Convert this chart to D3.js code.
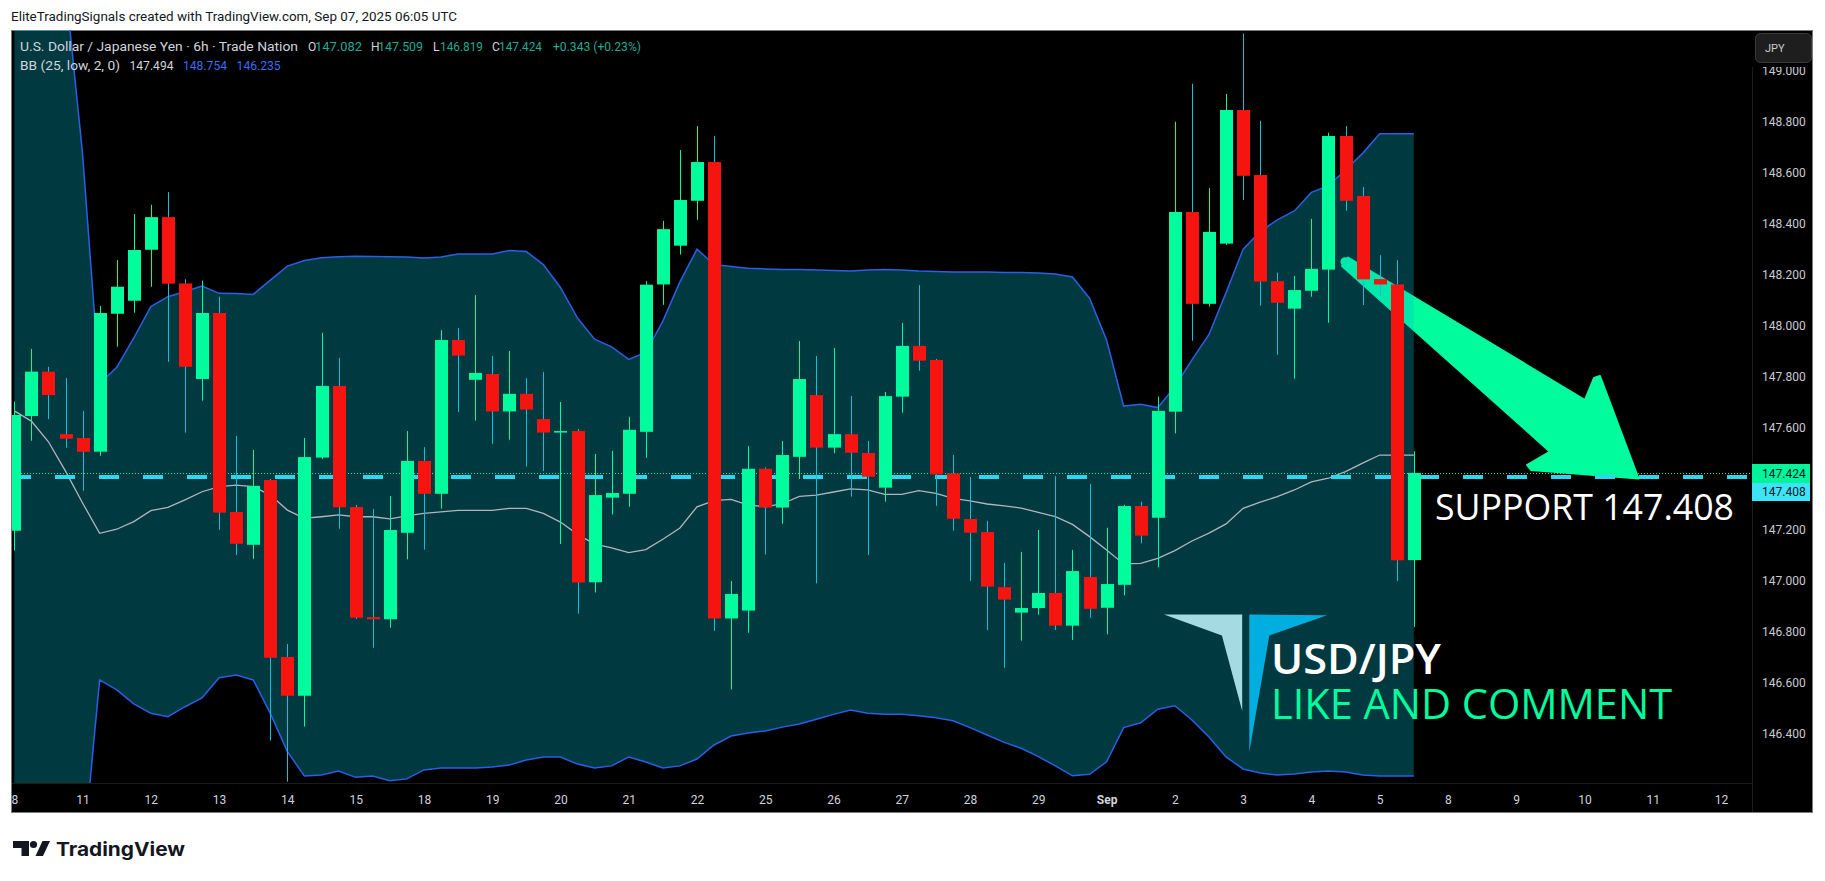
<!DOCTYPE html>
<html><head><meta charset="utf-8">
<script src="https://cdn.jsdelivr.net/npm/d3@7/dist/d3.min.js"></script>
<style>html,body{margin:0;padding:0;background:#fff;}svg{display:block}</style>
</head><body>
<svg id="c" width="1825" height="881"></svg>
<script>
// ---- data (USD/JPY 6h, Trade Nation) ----
const open  = [147.197,147.647,147.821,147.576,147.561,147.507,148.048,148.099,148.299,148.427,148.167,147.792,148.051,147.271,147.142,147.396,146.702,146.550,147.484,147.765,147.290,146.858,146.850,147.189,147.471,147.342,147.945,147.789,147.812,147.665,147.734,147.635,147.582,147.588,146.995,147.327,147.342,147.585,148.163,148.315,148.491,148.643,146.853,146.884,147.440,147.288,147.487,147.729,147.523,147.576,147.502,147.366,147.723,147.922,147.867,147.422,147.243,147.192,146.976,146.876,146.894,146.953,146.825,147.016,146.895,146.985,147.294,147.248,147.664,148.447,148.087,148.323,148.847,148.592,148.176,148.068,148.138,148.221,148.745,148.510,148.184,148.163,147.082];
const high  = [147.703,147.910,147.840,147.796,147.667,148.078,148.259,148.439,148.475,148.525,148.183,148.178,148.115,147.569,147.514,147.400,146.753,147.561,147.973,147.875,147.298,147.282,147.333,147.588,147.525,147.984,147.992,148.121,147.882,147.902,147.795,147.819,147.702,147.596,147.498,147.510,147.644,148.176,148.412,148.690,148.784,148.745,147.000,147.529,147.445,147.549,147.941,147.882,147.914,147.725,147.549,147.741,148.012,148.160,147.871,147.494,147.408,147.236,147.071,147.114,147.200,147.411,147.122,147.380,147.209,147.299,147.311,147.723,148.801,148.950,148.541,148.910,149.147,148.804,148.209,148.196,148.420,148.758,148.784,148.545,148.278,148.258,147.509];
const low   = [147.119,147.550,147.635,147.523,147.354,147.491,147.919,148.052,148.154,147.860,147.582,147.707,147.201,147.102,147.087,146.374,146.213,146.429,147.478,147.205,146.851,146.738,146.817,147.085,147.123,147.284,147.663,147.629,147.538,147.554,147.449,147.431,147.145,146.872,146.955,147.261,147.291,147.483,148.083,148.280,148.416,146.805,146.575,146.797,147.104,147.225,147.400,146.991,147.501,147.331,147.102,147.311,147.660,147.825,147.295,147.197,147.001,146.808,146.660,146.766,146.868,146.808,146.769,146.856,146.791,146.944,147.148,147.054,147.579,147.942,148.076,148.318,148.494,148.080,147.887,147.793,148.115,148.013,148.452,148.082,148.118,147.000,146.819];
const close = [147.651,147.821,147.729,147.558,147.507,148.051,148.154,148.298,148.427,148.166,147.840,148.051,147.268,147.146,147.373,146.699,146.550,147.486,147.765,147.289,146.856,146.850,147.200,147.471,147.342,147.945,147.884,147.816,147.665,147.734,147.672,147.582,147.588,146.994,147.337,147.345,147.593,148.162,148.380,148.494,148.643,146.853,146.949,147.440,147.288,147.494,147.792,147.523,147.576,147.503,147.409,147.725,147.922,147.864,147.418,147.244,147.189,146.978,146.927,146.894,146.953,146.825,147.039,146.891,146.988,147.294,147.178,147.667,148.447,148.087,148.369,148.847,148.589,148.174,148.091,148.141,148.224,148.745,148.491,148.183,148.163,147.081,147.424];

// Bollinger Bands (25, low, 2, 0)
const bbUpper = [149.45,149.42,149.38,149.333,148.676,147.773,147.838,147.953,148.076,148.115,148.135,148.157,148.128,148.127,148.124,148.180,148.235,148.257,148.268,148.272,148.274,148.273,148.272,148.271,148.267,148.271,148.282,148.282,148.282,148.296,148.292,148.241,148.151,148.031,147.948,147.918,147.869,147.896,148.019,148.173,148.301,148.241,148.233,148.226,148.224,148.222,148.222,148.220,148.218,148.216,148.220,148.222,148.220,148.216,148.214,148.212,148.212,148.212,148.210,148.210,148.208,148.204,148.192,148.109,147.945,147.686,147.693,147.680,147.762,147.867,147.967,148.131,148.301,148.370,148.416,148.451,148.524,148.550,148.612,148.677,148.754,148.754,148.754];
const bbBasis = [147.667,147.627,147.546,147.431,147.306,147.187,147.203,147.233,147.276,147.289,147.318,147.350,147.370,147.376,147.370,147.337,147.278,147.246,147.252,147.259,147.252,147.252,147.244,147.255,147.265,147.271,147.277,147.277,147.277,147.285,147.285,147.265,147.231,147.183,147.145,147.130,147.111,147.123,147.164,147.208,147.291,147.315,147.320,147.298,147.291,147.303,147.332,147.337,147.349,147.361,147.357,147.340,147.340,147.354,147.344,147.324,147.314,147.302,147.295,147.286,147.269,147.252,147.222,147.174,147.122,147.067,147.069,147.089,147.119,147.157,147.188,147.224,147.285,147.309,147.331,147.357,147.389,147.403,147.429,147.462,147.494,147.494,147.494];
const bbLower = [145.70,145.72,145.76,145.80,145.902,146.612,146.573,146.518,146.481,146.468,146.507,146.542,146.621,146.631,146.612,146.481,146.331,146.235,146.239,146.255,146.230,146.235,146.217,146.224,146.259,146.267,146.267,146.267,146.271,146.278,146.298,146.310,146.310,146.282,146.267,146.275,146.310,146.290,146.267,146.275,146.302,146.357,146.392,146.404,146.412,146.427,146.439,146.458,146.477,146.494,146.481,146.477,146.477,146.472,146.464,146.452,146.425,146.396,146.367,146.344,146.311,146.275,146.236,146.242,146.291,146.425,146.444,146.497,146.511,146.455,146.388,146.310,146.263,146.247,146.239,146.243,146.251,146.255,146.251,146.239,146.235,146.235,146.235];

const dayLabels = ["8","11","12","13","14","15","18","19","20","21","22","25","26","27","28","29","Sep","2","3","4","5","8","9","10","11","12"];
const priceTicks = [146.4,146.6,146.8,147.0,147.2,147.4,147.6,147.8,148.0,148.2,148.4,148.6,148.8,149.0];
const supportLevel = 147.408;
const barsPerDay = 4;

// ---- layout ----
const svg = d3.select("#c");
const plot = {x0:12, x1:1752, y0:30, y1:783};
const x = d3.scaleLinear().domain([0,100]).range([14.3,1721]);
const y = d3.scaleLinear().domain([146.4,149.0]).range([734,71]);
const GREEN="#00fc9c", RED="#f51410", RWICK="#14bfd9";
const N = close.length, idx = d3.range(N);
const last = N-1;
const f3 = d3.format(".3f");

// header
svg.append("text").attr("x",11).attr("y",20.5).attr("font-family","Roboto, 'Liberation Sans', sans-serif")
  .attr("font-size",12).attr("fill","#131722").attr("textLength",446).attr("lengthAdjust","spacingAndGlyphs")
  .text("EliteTradingSignals created with TradingView.com, Sep 07, 2025 06:05 UTC");

// chart frame
svg.append("rect").attr("x",11.5).attr("y",30.5).attr("width",1801).attr("height",782)
  .attr("fill","#000").attr("stroke","#7a7a7a").attr("stroke-width",1);
svg.append("line").attr("x1",1752.5).attr("x2",1752.5).attr("y1",31).attr("y2",812).attr("stroke","#1b1b1b");
svg.append("line").attr("x1",12).attr("x2",1752).attr("y1",783.5).attr("y2",783.5).attr("stroke","#1b1b1b");

const defs = svg.append("defs");
defs.append("clipPath").attr("id","pc").append("rect")
  .attr("x",plot.x0).attr("y",plot.y0).attr("width",plot.x1-plot.x0).attr("height",plot.y1-plot.y0);
defs.append("clipPath").attr("id","tc").append("rect")
  .attr("x",plot.x0).attr("y",783).attr("width",plot.x1-plot.x0).attr("height",30);

const g = svg.append("g").attr("clip-path","url(#pc)");

// arrow drawing (under the band fill)
const arrowPts = [[1348,257.5],[1585,400],[1594,378],[1600,376],[1638.5,478.5],[1531,470],[1527,465],[1550,451.7],[1342,266]];
g.append("path").attr("d", "M"+arrowPts.map(p=>p.join(",")).join("L")+"Z")
  .attr("fill",GREEN).attr("stroke",GREEN).attr("stroke-width",2).attr("stroke-linejoin","round");
g.append("circle").attr("cx",1345).attr("cy",261.8).attr("r",4.6).attr("fill",GREEN);

// BB fill + lines
g.append("path").datum(idx)
  .attr("d", d3.area().x(i=>x(i)).y0(i=>y(bbLower[i])).y1(i=>y(bbUpper[i])))
  .attr("fill","rgba(0,188,212,0.30)");
const bandLine = arr => d3.line().x(i=>x(i)).y(i=>y(arr[i]));
g.append("path").datum(idx).attr("d",bandLine(bbUpper)).attr("fill","none").attr("stroke","#2a5fe6").attr("stroke-width",1.5);
g.append("path").datum(idx).attr("d",bandLine(bbLower)).attr("fill","none").attr("stroke","#2a5fe6").attr("stroke-width",1.5);
g.append("path").datum(idx).attr("d",bandLine(bbBasis)).attr("fill","none").attr("stroke","#b2b5be").attr("stroke-width",1.3);

// horizontal price lines
g.append("line").attr("x1",11).attr("x2",plot.x1).attr("y1",y(supportLevel)).attr("y2",y(supportLevel))
  .attr("stroke","#2fd6ef").attr("stroke-width",4).attr("stroke-dasharray","20 24");
g.append("line").attr("x1",plot.x0).attr("x2",plot.x1).attr("y1",Math.round(y(close[last]))+0.5).attr("y2",Math.round(y(close[last]))+0.5)
  .attr("stroke","#00f59b").attr("stroke-width",1).attr("stroke-dasharray","1 2");

// candles
const cg = g.append("g");
idx.forEach(i=>{
  const up = close[i] >= open[i];
  const cx = Math.round(x(i)) + 0.5;
  cg.append("line").attr("x1",cx).attr("x2",cx).attr("y1",y(high[i])).attr("y2",y(low[i]))
    .attr("stroke", up?GREEN:RWICK).attr("stroke-width",1);
  const yt = y(Math.max(open[i],close[i])), yb = y(Math.min(open[i],close[i]));
  cg.append("rect").attr("x",Math.round(x(i))-6).attr("width",13)
    .attr("y",yt).attr("height",Math.max(1.5,yb-yt)).attr("fill", up?GREEN:RED);
});

// logo + texts (above)
const ov = svg.append("g").attr("clip-path","url(#pc)");
ov.append("path").attr("d","M1164,614.6L1242.2,614.6L1242.2,711L1221.9,635.6Z").attr("fill","#a6dae2");
ov.append("path").attr("d","M1249.3,614.6L1327,615.3L1269.3,635.6L1249.3,752Z").attr("fill","#00aee0");
ov.append("text").attr("x",1271).attr("y",673.5).attr("font-family","'Open Sans', 'Noto Sans', sans-serif")
  .attr("font-weight",600).attr("font-size",42).attr("fill","#fff").attr("textLength",170).attr("lengthAdjust","spacingAndGlyphs").text("USD/JPY");
ov.append("text").attr("x",1271).attr("y",718.5).attr("font-family","'Open Sans', 'Noto Sans', sans-serif")
  .attr("font-weight",500).attr("font-size",42).attr("fill",GREEN).attr("textLength",401).attr("lengthAdjust","spacingAndGlyphs").text("LIKE AND COMMENT");
ov.append("text").attr("x",1435).attr("y",520).attr("font-family","'Open Sans', 'Noto Sans', sans-serif")
  .attr("font-size",37).attr("fill","#fff").attr("textLength",299).attr("lengthAdjust","spacingAndGlyphs").text("SUPPORT " + f3(supportLevel));

// legend
const lg = svg.append("g").attr("font-family","Roboto, 'Liberation Sans', sans-serif").attr("font-size",12);
const leg = (t,xx,yy,col,len)=>{const e=lg.append("text").attr("x",xx).attr("y",yy).attr("fill",col).text(t); if(len) e.attr("textLength",len).attr("lengthAdjust","spacingAndGlyphs");};
const chg = close[last]-close[last-1];
leg("U.S. Dollar / Japanese Yen · 6h · Trade Nation",20,50.5,"#d1d4dc",278);
leg("O",308,50.5,"#d1d4dc"); leg(f3(open[last]),315,50.5,"#22ab94",47);
leg("H",371,50.5,"#d1d4dc"); leg(f3(high[last]),378,50.5,"#22ab94",45);
leg("L",433,50.5,"#d1d4dc"); leg(f3(low[last]),440,50.5,"#22ab94",43);
leg("C",492,50.5,"#d1d4dc"); leg(f3(close[last]),499,50.5,"#22ab94",43);
leg("+" + f3(chg) + " (+" + (chg/close[last-1]*100).toFixed(2) + "%)",553,50.5,"#22ab94",88);
leg("BB (25, low, 2, 0)",20,69.5,"#d1d4dc",100);
leg(f3(bbBasis[last]),129.5,69.5,"#d1d4dc",44);
leg(f3(bbUpper[last]),183,69.5,"#3a6cf4",44);
leg(f3(bbLower[last]),236.6,69.5,"#3a6cf4",44);

// price axis
const pa = svg.append("g").attr("transform","translate(1752,0)")
  .call(d3.axisRight(y).tickValues(priceTicks).tickFormat(f3).tickSize(0).tickPadding(10));
pa.select(".domain").remove();
pa.selectAll("text").attr("fill","#c9cbd1").attr("font-family","Roboto, 'Liberation Sans', sans-serif").attr("font-size",12);

// JPY button
svg.append("rect").attr("x",1752).attr("y",31).attr("width",60).attr("height",36).attr("fill","#000");
svg.append("rect").attr("x",1755.5).attr("y",33.5).attr("width",56).attr("height",29).attr("rx",5)
  .attr("fill","#1e1e1e").attr("stroke","#3a3a3a");
svg.append("text").attr("x",1765).attr("y",52).attr("font-family","Roboto, sans-serif").attr("font-size",11).attr("fill","#c9cbd1").text("JPY");

// last price labels
const tagG = svg.append("g").attr("font-family","Roboto, 'Liberation Sans', sans-serif").attr("font-size",12);
tagG.append("rect").attr("x",1752).attr("y",464).attr("width",58).attr("height",19).attr("fill","#00f59b");
tagG.append("text").attr("x",1762).attr("y",477.5).attr("fill","#131722").text(f3(close[last]));
tagG.append("rect").attr("x",1752).attr("y",483).attr("width",58).attr("height",18).attr("fill","#3de3f7");
tagG.append("text").attr("x",1762).attr("y",496).attr("fill","#131722").text(f3(supportLevel));

// time axis
const ta = svg.append("g").attr("clip-path","url(#tc)").append("g").attr("transform","translate(0,783)")
  .call(d3.axisBottom(x).tickValues(dayLabels.map((d,i)=>i*barsPerDay)).tickFormat((d,i)=>dayLabels[i]).tickSize(0).tickPadding(12.5));
ta.select(".domain").remove();
ta.selectAll("text").attr("fill","#d1d4dc").attr("font-family","Roboto, 'Liberation Sans', sans-serif").attr("font-size",12)
  .attr("font-weight",(d,i)=>dayLabels[i]==="Sep"?700:400);

// TradingView footer logo
const fl = svg.append("g").attr("fill","#131722");
fl.append("path").attr("d","M13,841H29V856H21.5V848H13Z");
fl.append("circle").attr("cx",33.5).attr("cy",844.5).attr("r",3.6);
fl.append("path").attr("d","M35.5,856L42.5,841H50L43,856Z");
svg.append("text").attr("x",56).attr("y",855.5).attr("font-family","Inter, Roboto, sans-serif").attr("font-weight",700)
  .attr("font-size",19).attr("fill","#131722").attr("textLength",129).attr("lengthAdjust","spacingAndGlyphs").text("TradingView");
</script>
</body></html>
